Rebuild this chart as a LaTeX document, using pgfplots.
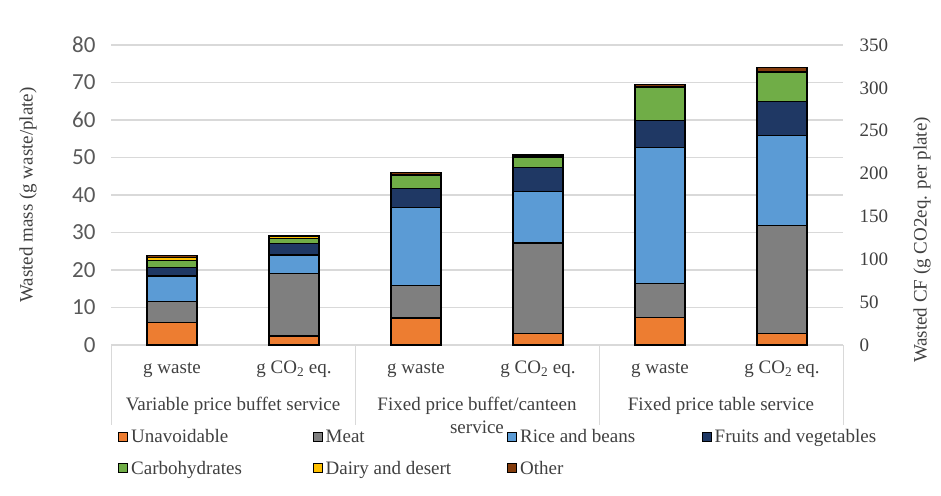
\documentclass[border=0pt]{standalone}
\usepackage{pgfplots}
\pgfplotsset{compat=1.18}
\usepackage{fontspec}
\setmainfont{Liberation Serif}
\newfontfamily\calibri{Carlito}
\definecolor{cUnav}{HTML}{ED7D31}
\definecolor{cMeat}{HTML}{7F7F7F}
\definecolor{cRice}{HTML}{5B9BD5}
\definecolor{cFruit}{HTML}{1F3864}
\definecolor{cCarb}{HTML}{70AD47}
\definecolor{cDairy}{HTML}{FFC000}
\definecolor{cOther}{HTML}{843C0C}
\definecolor{gridgray}{HTML}{D9D9D9}
\definecolor{tickgray}{HTML}{595959}
\definecolor{txtgray}{HTML}{404040}
\newcommand{\tfont}{\fontsize{19}{22}\selectfont}
\newcommand{\lentry}[1]{\makebox[181.5pt][l]{\hspace*{2pt}#1}}
\begin{document}
\begin{tikzpicture}
\useasboundingbox (-111pt,-150pt) rectangle (830pt,345pt);
\pgfplotsset{
  common/.style={
    at={(0pt,0pt)}, anchor=south west, scale only axis,
    width=732pt, height=300pt, xmin=-0.5, xmax=5.5,
    ybar stacked, bar width=50pt, major tick length=0pt,
    clip=false,
    /pgf/number format/assume math mode=true,
  },
  bars/.style={draw=black, line width=1.1pt},
}
\begin{axis}[common,
  ymin=0, ymax=80, ytick={0,10,...,80},
  axis x line*=bottom, axis y line*=left,
  y axis line style={draw=none},
  x axis line style={draw=gridgray, line width=1pt, -},
  ymajorgrids, grid style={gridgray, line width=1.2pt},
  yticklabel style={font=\calibri\fontsize{23}{26}\selectfont, text=tickgray, xshift=-12pt},
  xtick={0,1,2,3,4,5},
  xticklabels={g waste, g CO\textsubscript{2} eq., g waste, g CO\textsubscript{2} eq., g waste, g CO\textsubscript{2} eq.},
  xticklabel style={font=\tfont, text=txtgray, anchor=base, yshift=-28.5pt},
  legend columns=4,
  legend image code/.code={\draw[#1, draw=black, line width=1pt] (0pt,-4.5pt) rectangle (9pt,4.5pt);},
  legend style={at={(rel axis cs:0,0)}, anchor=north west, xshift=4pt, yshift=-80pt,
    draw=none, fill=none, font=\tfont, text=txtgray,
    /tikz/every even column/.append style={column sep=0pt},
    /tikz/every odd column/.append style={column sep=-1pt},
    row sep=13pt},
]
\addplot[bars, fill=cUnav]  coordinates {(0,6.0) (2,7.2) (4,7.4)};
\addlegendentry{\lentry{Unavoidable}}
\addplot[bars, fill=cMeat]  coordinates {(0,5.5) (2,8.6) (4,9.0)};
\addlegendentry{\lentry{Meat}}
\addplot[bars, fill=cRice]  coordinates {(0,6.9) (2,20.8) (4,36.3)};
\addlegendentry{\lentry{Rice and beans}}
\addplot[bars, fill=cFruit] coordinates {(0,2.3) (2,5.2) (4,7.1)};
\addlegendentry{\hspace*{2pt}Fruits and vegetables}
\addplot[bars, fill=cCarb]  coordinates {(0,1.9) (2,3.5) (4,8.8)};
\addlegendentry{\lentry{Carbohydrates}}
\addplot[bars, fill=cDairy] coordinates {(0,0.7) (2,0.2) (4,0.2)};
\addlegendentry{\lentry{Dairy and desert}}
\addplot[bars, fill=cOther] coordinates {(0,0.6) (2,0.4) (4,0.7)};
\addlegendentry{\lentry{Other}}
% category separators
\foreach \xx in {-0.5,1.5,3.5,5.5}{
  \edef\tmp{\noexpand\draw[gridgray, line width=1pt] (axis cs:\xx,0) -- ++(0pt,-80pt);}\tmp
}
\node[font=\tfont, text=txtgray, anchor=base] at ([yshift=-65pt]axis cs:0.5,0) {Variable price buffet service};
\node[font=\tfont, text=txtgray, anchor=base] at ([yshift=-65pt]axis cs:2.5,0) {Fixed price buffet/canteen};
\node[font=\tfont, text=txtgray, anchor=base] at ([yshift=-88pt]axis cs:2.5,0) {service};
\node[font=\tfont, text=txtgray, anchor=base] at ([yshift=-65pt]axis cs:4.5,0) {Fixed price table service};
\end{axis}
\begin{axis}[common,
  ymin=0, ymax=350, ytick={0,50,...,350},
  axis x line=none, axis y line*=right,
  y axis line style={draw=none},
  xtick=\empty,
  yticklabel style={font=\tfont, text=txtgray, anchor=west, xshift=13pt},
]
\addplot[bars, fill=cUnav]  coordinates {(1,10.5) (3,13.1) (5,13.1)};
\addplot[bars, fill=cMeat]  coordinates {(1,73.1) (3,105.9) (5,126.4)};
\addplot[bars, fill=cRice]  coordinates {(1,21.4) (3,59.9) (5,105.0)};
\addplot[bars, fill=cFruit] coordinates {(1,13.1) (3,28.0) (5,39.4)};
\addplot[bars, fill=cCarb]  coordinates {(1,6.6) (3,12.3) (5,33.7)};
\addplot[bars, fill=cDairy] coordinates {(1,1.8) (3,1.3) (5,0.9)};
\addplot[bars, fill=cOther] coordinates {(1,1.7) (3,1.8) (5,5.2)};
\end{axis}
\node[font=\tfont, text=txtgray, rotate=90] at (-83pt,150pt) {Wasted mass (g waste/plate)};
\node[font=\tfont, text=txtgray, rotate=90] at (811pt,105pt) {Wasted CF (g CO2eq. per plate)};
\end{tikzpicture}
\end{document}
